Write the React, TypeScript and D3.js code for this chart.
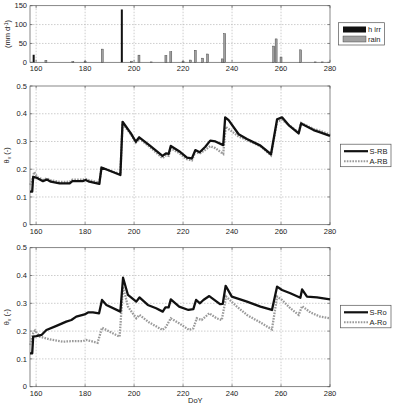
import * as d3 from "d3";

// bar data (top panel)
const irrDays = [159, 195];
const irrVals = [20, 140];
const rainDays = [164, 175, 180, 187, 199, 202, 207, 213, 215, 220, 223, 225, 228, 230, 236, 237, 257, 258, 260, 268, 274, 277];
const rainVals = [5, 2, 3, 35, 3, 19, 1, 18, 28, 2, 6, 32, 11, 22, 9, 76, 43, 62, 14, 33, 1, 1];

// S-RB / A-RB
const srbDays = [157.5, 158.4, 158.8, 160, 162.8, 164.4, 166, 169.6, 173.7, 174.8, 179, 180.2, 181.7, 185.8, 186.7, 194.4, 195.3, 198.7, 200.7, 202.1, 206.2, 211.6, 213, 214.1, 215, 218.4, 221.6, 223.6, 225, 226.8, 229.1, 231.1, 233.2, 236.4, 237.2, 238.6, 242.7, 246.1, 251.6, 255.9, 258.4, 260.4, 263.1, 267.2, 268.2, 273.3, 276, 280];
const srbVals = [0.119, 0.119, 0.172, 0.17, 0.157, 0.163, 0.155, 0.149, 0.149, 0.157, 0.157, 0.161, 0.155, 0.147, 0.206, 0.179, 0.371, 0.329, 0.299, 0.315, 0.287, 0.248, 0.257, 0.255, 0.284, 0.265, 0.242, 0.239, 0.269, 0.261, 0.281, 0.303, 0.3, 0.287, 0.387, 0.377, 0.326, 0.309, 0.285, 0.254, 0.38, 0.387, 0.359, 0.329, 0.365, 0.341, 0.333, 0.32];
const arbDays = [157.5, 158.4, 159.2, 160.5, 162.8, 164.4, 166, 169.6, 173.7, 174.8, 179, 180.2, 181.7, 185.8, 186.7, 194.4, 195.3, 198.7, 200.7, 202.1, 206.2, 211.6, 213, 214.1, 215, 218.4, 221.6, 223.6, 225, 226.8, 229.1, 231.1, 233.2, 236.4, 237.4, 238.6, 242.7, 246.1, 251.6, 255.9, 258.4, 260.4, 263.1, 267.2, 268.2, 273.3, 276, 280];
const arbVals = [0.143, 0.16, 0.19, 0.172, 0.162, 0.167, 0.16, 0.154, 0.155, 0.162, 0.162, 0.165, 0.16, 0.152, 0.206, 0.182, 0.365, 0.326, 0.296, 0.31, 0.282, 0.24, 0.25, 0.248, 0.276, 0.258, 0.236, 0.232, 0.262, 0.256, 0.27, 0.283, 0.276, 0.255, 0.353, 0.345, 0.318, 0.305, 0.283, 0.25, 0.372, 0.378, 0.36, 0.333, 0.367, 0.345, 0.338, 0.325];

// S-Ro / A-Ro
const sroDays = [157.5, 158.4, 158.8, 160.1, 162.2, 164.2, 168.3, 172.3, 174.4, 176.4, 179.8, 181.2, 183.2, 185.7, 186.9, 188.7, 194.4, 195.5, 197.5, 200.9, 202.2, 205.6, 209, 211.7, 212.8, 214.1, 215, 218.4, 222.2, 224.2, 225.3, 226.9, 228.3, 230.7, 235.1, 236.2, 237.4, 239.9, 246.1, 251.6, 256.3, 258.4, 260.4, 263.8, 267.9, 268.6, 270.6, 274.7, 280];
const sroVals = [0.12, 0.12, 0.18, 0.182, 0.186, 0.204, 0.219, 0.234, 0.24, 0.252, 0.26, 0.267, 0.267, 0.264, 0.312, 0.294, 0.27, 0.392, 0.33, 0.306, 0.321, 0.294, 0.282, 0.27, 0.285, 0.285, 0.314, 0.288, 0.276, 0.279, 0.312, 0.3, 0.312, 0.326, 0.297, 0.298, 0.363, 0.324, 0.306, 0.288, 0.276, 0.36, 0.348, 0.336, 0.32, 0.35, 0.324, 0.321, 0.314];
const aroDays = [157.5, 158.8, 159.6, 161.5, 165.6, 171, 175, 179.1, 180.5, 185.1, 186.9, 194.1, 195.5, 197.5, 200.9, 202.2, 206.2, 211.6, 213, 215, 218.4, 222.5, 224.2, 225.6, 227.6, 230.7, 233.7, 235.8, 237.6, 242, 246.1, 251.6, 256.3, 258.4, 260.4, 263.8, 267.2, 268.6, 272, 276, 280];
const aroVals = [0.15, 0.192, 0.202, 0.18, 0.17, 0.162, 0.164, 0.164, 0.168, 0.158, 0.212, 0.18, 0.36, 0.288, 0.246, 0.258, 0.231, 0.204, 0.215, 0.246, 0.228, 0.204, 0.21, 0.246, 0.24, 0.264, 0.246, 0.24, 0.324, 0.288, 0.258, 0.231, 0.206, 0.324, 0.312, 0.282, 0.258, 0.29, 0.267, 0.252, 0.246];

const xTicks = [160, 180, 200, 220, 240, 260, 280];
const barTicks = [0, 50, 100, 150];
const thetaTicks = [0, 0.1, 0.2, 0.3, 0.4, 0.5];

const FONT = "Liberation Sans, Arial, sans-serif";
const LEFT = 30;
const RIGHT = 330;
const GRID = "#b8b8b8";
const TXT = "#222";
const FS = 7.5;

const x = d3.scaleLinear().domain([157.5, 280]).range([LEFT, RIGHT]);

type Pt = { d: number; v: number };
const zip = (ds: number[], vs: number[]): Pt[] => ds.map((d, i) => ({ d, v: vs[i] }));

const Frame = ({ y, ticks, fmt, top, bottom }: { y: d3.ScaleLinear<number, number>; ticks: number[]; fmt: (v: number) => string; top: number; bottom: number }) => (
  <g fontFamily={FONT} fontSize={FS} fill={TXT}>
    {xTicks.map((t) => (
      <g key={"x" + t}>
        {t > 157.5 && t < 280 && (
          <line x1={x(t)} x2={x(t)} y1={top} y2={bottom} stroke={GRID} strokeWidth={0.7} strokeDasharray="1.5,1.5" />
        )}
        <line x1={x(t)} x2={x(t)} y1={bottom} y2={bottom - 2.5} stroke="#444" strokeWidth={0.6} />
        <line x1={x(t)} x2={x(t)} y1={top} y2={top + 2.5} stroke="#444" strokeWidth={0.6} />
        <text x={x(t)} y={bottom + 9} textAnchor="middle">{t}</text>
      </g>
    ))}
    {ticks.map((t) => (
      <g key={"y" + t}>
        {y(t) > top + 0.5 && y(t) < bottom - 0.5 && (
          <line x1={LEFT} x2={RIGHT} y1={y(t)} y2={y(t)} stroke={GRID} strokeWidth={0.7} strokeDasharray="1.5,1.5" />
        )}
        <line x1={LEFT} x2={LEFT + 2.5} y1={y(t)} y2={y(t)} stroke="#444" strokeWidth={0.6} />
        <line x1={RIGHT} x2={RIGHT - 2.5} y1={y(t)} y2={y(t)} stroke="#444" strokeWidth={0.6} />
        <text x={LEFT - 3} y={y(t) + 2.7} textAnchor="end">{fmt(t)}</text>
      </g>
    ))}
    <rect x={LEFT} y={top} width={RIGHT - LEFT} height={bottom - top} fill="none" stroke="#555" strokeWidth={0.7} />
  </g>
);

const LinePanel = ({ top, bottom, s, a, names, legendY }: { top: number; bottom: number; s: Pt[]; a: Pt[]; names: string[]; legendY: number }) => {
  const y = d3.scaleLinear().domain([0, 0.5]).range([bottom, top]);
  const line = d3.line<Pt>().x((p) => x(p.d)).y((p) => y(p.v));
  const mid = (top + bottom) / 2;
  return (
    <g>
      <Frame y={y} ticks={thetaTicks} fmt={(v) => (v === 0 ? "0" : String(v))} top={top} bottom={bottom} />
      <path d={line(a) || ""} fill="none" stroke="#9a9a9a" strokeWidth={2.3} strokeDasharray="1.6,1.2" />
      <path d={line(s) || ""} fill="none" stroke="#111" strokeWidth={2.3} strokeLinejoin="round" />
      <text transform={`translate(9,${mid}) rotate(-90)`} fontFamily={FONT} fontSize={FS} fill={TXT} textAnchor="middle">
        θ<tspan fontSize={5} dy={1.5}>v</tspan><tspan dy={-1.5}> (-)</tspan>
      </text>
      <g fontFamily={FONT} fontSize={FS} fill={TXT}>
        <rect x={340.5} y={legendY} width={50.5} height={22.5} fill="#fff" stroke="#555" strokeWidth={0.7} />
        <line x1={344} x2={368} y1={legendY + 7} y2={legendY + 7} stroke="#111" strokeWidth={2.2} />
        <line x1={344} x2={368} y1={legendY + 17} y2={legendY + 17} stroke="#9a9a9a" strokeWidth={2} strokeDasharray="1.6,1.2" />
        <text x={369.5} y={legendY + 9.7}>{names[0]}</text>
        <text x={369.5} y={legendY + 19.7}>{names[1]}</text>
      </g>
    </g>
  );
};

const BarPanel = () => {
  const top = 5.7;
  const bottom = 62.3;
  const y = d3.scaleLinear().domain([0, 150]).range([bottom, top]);
  const bw = 2;
  return (
    <g>
      <Frame y={y} ticks={barTicks} fmt={(v) => String(v)} top={top} bottom={bottom} />
      {rainDays.map((d, i) => (
        <rect key={"r" + i} x={x(d) - bw / 2} y={y(rainVals[i])} width={bw} height={bottom - y(rainVals[i])} fill="#a0a0a0" stroke="#333" strokeWidth={0.4} />
      ))}
      {irrDays.map((d, i) => (
        <rect key={"i" + i} x={x(d) - bw / 2} y={y(irrVals[i])} width={bw} height={bottom - y(irrVals[i])} fill="#111" />
      ))}
      <text transform={`translate(10,${(top + bottom) / 2}) rotate(-90)`} fontFamily={FONT} fontSize={FS} fill={TXT} textAnchor="middle">
        (mm d<tspan fontSize={5} dy={-2.5}>-1</tspan><tspan dy={2.5}>)</tspan>
      </text>
      <g fontFamily={FONT} fontSize={FS} fill={TXT}>
        <rect x={338.5} y={22.7} width={46} height={22.3} fill="#fff" stroke="#555" strokeWidth={0.7} />
        <rect x={343} y={26.5} width={23} height={6} fill="#111" />
        <rect x={343} y={36} width={23} height={6} fill="#a0a0a0" stroke="#333" strokeWidth={0.4} />
        <text x={368} y={32.2}>h irr</text>
        <text x={368} y={41.7}>rain</text>
      </g>
    </g>
  );
};

export default function App() {
  return (
    <svg width={395} height={407} style={{ position: "absolute", left: 0, top: 0, background: "#fff" }}>
      <BarPanel />
      <LinePanel top={86} bottom={224.7} s={zip(srbDays, srbVals)} a={zip(arbDays, arbVals)} names={["S-RB", "A-RB"]} legendY={144.2} />
      <LinePanel top={247.7} bottom={386.7} s={zip(sroDays, sroVals)} a={zip(aroDays, aroVals)} names={["S-Ro", "A-Ro"]} legendY={305.3} />
      <text x={x(225)} y={403} fontFamily={FONT} fontSize={FS} fill={TXT} textAnchor="middle">DoY</text>
    </svg>
  );
}
